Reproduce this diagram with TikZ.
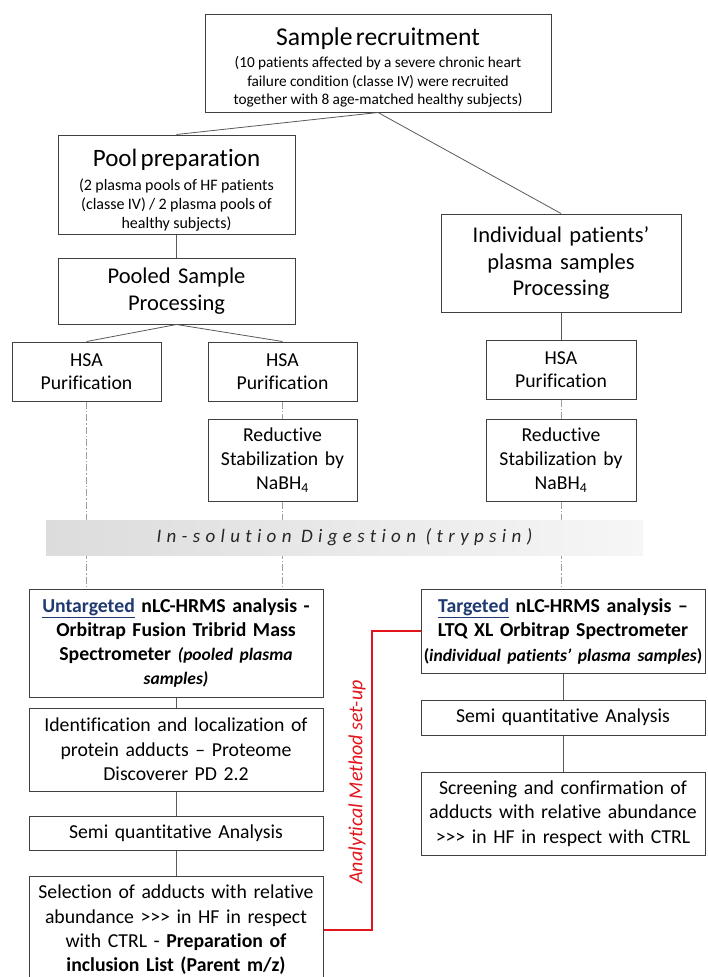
\documentclass[tikz,border=0pt]{standalone}
\usepackage{fontspec}
\setmainfont{Carlito}[Ligatures=NoCommon]
\usetikzlibrary{calc}
\definecolor{boxline}{HTML}{404040}
\definecolor{connc}{HTML}{595959}
\definecolor{navyblue}{HTML}{1F3A70}
\definecolor{redline}{HTML}{E3141B}
\newcommand{\setfs}[2]{\fontsize{#1}{#2}\selectfont}
\newcommand{\ggg}{>{}>{}>}
\tikzset{
  box/.style={draw=boxline, line width=1pt, inner sep=0pt, align=center, fill=white},
  connector/.style={draw=connc, line width=0.8pt},
  dashdot/.style={draw=gray!75, line width=0.7pt, dash pattern=on 7pt off 2pt on 1.5pt off 2pt},
  body/.style={font=\setfs{19.75}{24.3}},
}
\begin{document}
\begin{tikzpicture}[x=1pt,y=-1pt]
\path[use as bounding box, clip] (0,0) rectangle (707,977);

% top
\node[box, minimum width=346pt, minimum height=98pt, text width=344pt] (sr) at (378,63)
 {{\setfs{25.6}{30}\rule{0pt}{27pt}Sample recruitment\par}\vspace{3pt}
  {\setfs{15.3}{18.7}(10 patients affected by a severe chronic heart\\
   failure condition (classe IV) were recruited\\
   together with 8 age-matched healthy subjects)\par}};

\node[box, minimum width=237pt, minimum height=99pt, text width=235pt] (pool) at (176.5,184.5)
 {{\setfs{25}{30}\rule{0pt}{29pt}Pool preparation\par}\vspace{5pt}
  {\setfs{16}{19}(2 plasma pools of HF patients\\
   (classe IV) / 2 plasma pools of\\
   healthy subjects)\par}};

\node[box, minimum width=237pt, minimum height=66pt, text width=235pt, font=\setfs{22.5}{27}] (pooled) at (176.5,291)
 {Pooled Sample\\Processing};

\node[box, minimum width=240pt, minimum height=98pt, text width=238pt, font=\setfs{22.5}{26.5}] (indiv) at (561,263)
 {Individual patients’\\plasma samples\\Processing};

\node[box, minimum width=149pt, minimum height=59pt, text width=147pt, font=\setfs{19.7}{23}] (hsaL) at (86.5,371.5)
 {HSA\\Purification};
\node[box, minimum width=149pt, minimum height=59pt, text width=147pt, font=\setfs{19.7}{23}] (hsaM) at (282.5,371.5)
 {HSA\\Purification};
\node[box, minimum width=150pt, minimum height=59pt, text width=148pt, font=\setfs{19.7}{23}] (hsaR) at (561,369.5)
 {HSA\\Purification};

\node[box, minimum width=149pt, minimum height=82pt, text width=147pt, font=\setfs{19.7}{24}] (redM) at (282.5,460)
 {Reductive\\Stabilization by\\NaBH\textsubscript{4}};
\node[box, minimum width=150pt, minimum height=82pt, text width=148pt, font=\setfs{19.7}{24}] (redR) at (561,460)
 {Reductive\\Stabilization by\\NaBH\textsubscript{4}};

% lower left column
\node[box, minimum width=294pt, minimum height=108pt, text width=290pt, font=\setfs{19.75}{24}\bfseries] (untg) at (176,643)
 {\textcolor{navyblue}{\underline{Untargeted}} nLC-HRMS analysis -\\
  Orbitrap Fusion Tribrid Mass\\
  Spectrometer {\setfs{17.5}{24}\itshape (pooled plasma\\ samples)}};

\node[box, minimum width=294pt, minimum height=83pt, text width=290pt, body] (ident) at (176,749.5)
 {Identification and localization of\\protein adducts – Proteome\\Discoverer PD 2.2};

\node[box, minimum width=294pt, minimum height=34pt, text width=290pt, body] (semiL) at (176,833)
 {Semi quantitative Analysis};

\node[box, minimum width=294pt, minimum height=108pt, text width=290pt, body] (sel) at (176,930)
 {Selection of adducts with relative\\abundance \ggg{} in HF in respect\\with CTRL - \textbf{Preparation of}\\\textbf{inclusion List (Parent m/z)}};

% lower right column
\node[box, minimum width=284pt, minimum height=84pt, text width=282pt, font=\setfs{19.75}{24.5}\bfseries] (targ) at (563,631)
 {\textcolor{navyblue}{\underline{Targeted}} nLC-HRMS analysis –\\
  LTQ XL Orbitrap Spectrometer\\
  {\setfs{17.5}{24.5}(\textit{individual patients’ plasma samples})}};

\node[box, minimum width=284pt, minimum height=35pt, text width=282pt, body] (semiR) at (563,717.5)
 {Semi quantitative Analysis};

\node[box, minimum width=284pt, minimum height=83pt, text width=282pt, body] (scr) at (563,813.5)
 {Screening and confirmation of\\adducts with relative abundance\\\ggg{} in HF in respect with CTRL};

% connectors
\draw[connector] (sr.south) -- (pool.north);
\draw[connector] (sr.south) -- (indiv.north);
\draw[connector] (pool.south) -- (pooled.north);
\draw[connector] (pooled.south) -- (hsaL.north);
\draw[connector] (pooled.south) -- (hsaM.north);
\draw[connector] (indiv.south) -- (hsaR.north);
\draw[dashdot] (hsaM.south) -- (redM.north);
\draw[dashdot] (hsaR.south) -- (redR.north);
\draw[dashdot] (hsaL.south) -- (hsaL.south |- untg.north);
\draw[dashdot] (redM.south) -- (redM.south |- untg.north);
\draw[dashdot] (redR.south) -- (redR.south |- targ.north);
\draw[connector] (untg.south) -- (ident.north);
\draw[connector] (ident.south) -- (semiL.north);
\draw[connector] (semiL.south) -- (sel.north);
\draw[connector] (targ.south) -- (semiR.north);
\draw[connector] (semiR.south) -- (scr.north);

% digestion band
\node[minimum width=597pt, minimum height=35pt, inner sep=0pt,
      left color={rgb,255:red,220;green,220;blue,220}, right color={rgb,255:red,246;green,246;blue,246},
      font=\setfs{19}{22}\itshape\addfontfeature{LetterSpace=28}, text=black!85] (band) at (344.5,537.5)
 {In-solution Digestion (trypsin)\hspace{10pt}};

% red analytical method connector
\coordinate (rc) at (372,631);
\draw[draw=redline, line width=2.4pt] (sel.east) -| (rc) -- (targ.west);
\node[rotate=90, text=redline, font=\setfs{20}{24}\itshape] (aml) at (357,782) {Analytical Method set-up};
\end{tikzpicture}
\end{document}
